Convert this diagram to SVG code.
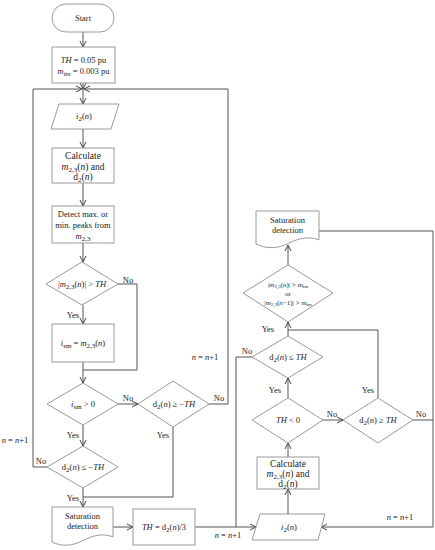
<svg xmlns="http://www.w3.org/2000/svg" width="435" height="550" viewBox="0 0 435 550">
<defs>
<marker id="ar" markerWidth="8" markerHeight="8" refX="7" refY="4" orient="auto" markerUnits="userSpaceOnUse">
<path d="M1,1 L7,4 L1,7" fill="none" stroke="#444" stroke-width="1"/>
</marker>
<style>
.s{fill:#fff;stroke:#9a9a9a;stroke-width:1}
.c{fill:none;stroke:#555;stroke-width:1}
.a{marker-end:url(#ar)}
text{font-family:"Liberation Serif","DejaVu Serif",serif;font-size:8.5px;fill:#222;text-anchor:middle}
.big{font-size:9.5px}
.sm{font-size:7px}
.i{font-style:italic}
.lb{font-size:8.5px}
</style>
</defs>
<rect width="435" height="550" fill="#fff"/>
<g id="connectors">
<path class="c a" d="M83,32 V47"/>
<path class="c a" d="M83,83 V89"/>
<path class="c a" d="M83,89 V104"/>
<path class="c a" d="M47,467 H33 V89 H82"/>
<path class="c a" d="M209,404 H228 V89 H84"/>
<path class="c a" d="M83,129 V148"/>
<path class="c a" d="M83,183 V206"/>
<path class="c a" d="M83,243 V262"/>
<path class="c" d="M118,284 H137 V370 H83"/>
<path class="c a" d="M83,305 V324"/>
<path class="c a" d="M83,362 V383"/>
<path class="c a" d="M118,404 H138"/>
<path class="c a" d="M83,425 V446"/>
<path class="c" d="M173,427 V497 H83"/>
<path class="c a" d="M83,488 V507"/>
<path class="c a" d="M113,527 H133"/>
<path class="c a" d="M195,527 H256"/>
<path class="c" d="M252,357 H236 V527"/>
<path class="c a" d="M288,514 V489"/>
<path class="c a" d="M288,457 V443"/>
<path class="c a" d="M323,420 H343"/>
<path class="c" d="M413,420 H433"/>
<path class="c a" d="M319,231 H433 V527 H321"/>
<path class="c a" d="M288,398 V378"/>
<path class="c" d="M378,398 V330 H288"/>
<path class="c a" d="M288,336 V322"/>
<path class="c a" d="M288,265 V245"/>
<text class="lb" x="128" y="283">No</text>
<text class="lb" x="73" y="318">Yes</text>
<text class="lb" x="128" y="401">No</text>
<text class="lb" x="73" y="438">Yes</text>
<text class="lb" x="163" y="438">Yes</text>
<text class="lb" x="219" y="401">No</text>
<text class="lb" x="41" y="464">No</text>
<text class="lb" x="73" y="501">Yes</text>
<text class="lb" x="15" y="443"><tspan class="i">n</tspan> = <tspan class="i">n</tspan>+1</text>
<text class="lb" x="205" y="360"><tspan class="i">n</tspan> = <tspan class="i">n</tspan>+1</text>
<text class="lb" x="228" y="538"><tspan class="i">n</tspan> = <tspan class="i">n</tspan>+1</text>
<text class="lb" x="247" y="354">No</text>
<text class="lb" x="332" y="417">No</text>
<text class="lb" x="421" y="417">No</text>
<text class="lb" x="400" y="520"><tspan class="i">n</tspan> = <tspan class="i">n</tspan>+1</text>
<text class="lb" x="275" y="393">Yes</text>
<text class="lb" x="368" y="393">Yes</text>
<text class="lb" x="268" y="332">Yes</text>
</g>
<g id="start">
<rect class="s" x="52" y="4" width="62" height="28" rx="14"/>
<text x="83" y="21">Start</text>
</g>
<g id="init">
<rect class="s" x="52" y="47" width="63" height="36"/>
<text x="83.5" y="63"><tspan class="i">TH</tspan> = 0.05 pu</text>
<text x="83.5" y="74"><tspan class="i">m</tspan><tspan class="sm i" dy="1.5">tm</tspan><tspan dy="-1.5"> = 0.003 pu</tspan></text>
</g>
<g id="input1">
<polygon class="s" points="59,104 119,104 111,129 51,129"/>
<text x="84" y="119"><tspan class="i">i</tspan><tspan class="sm" dy="1.5">2</tspan><tspan dy="-1.5">(</tspan><tspan class="i">n</tspan>)</text>
</g>
<g id="calc1">
<rect class="s" x="52" y="148" width="62" height="35"/>
<text class="big" x="83" y="159">Calculate</text>
<text class="big" x="83" y="170"><tspan class="i">m</tspan><tspan class="sm" dy="1.5">2,3</tspan><tspan dy="-1.5">(</tspan><tspan class="i">n</tspan>) and</text>
<text class="big" x="83" y="180">d<tspan class="sm" dy="1.5">2</tspan><tspan dy="-1.5">(</tspan><tspan class="i">n</tspan>)</text>
</g>
<g id="detect">
<rect class="s" x="52" y="206" width="62" height="37"/>
<text x="83" y="217">Detect max. or</text>
<text x="83" y="228">min. peaks from</text>
<text x="83" y="239"><tspan class="i">m</tspan><tspan class="sm" dy="1.5">2,3</tspan></text>
</g>
<g id="cond1">
<polygon class="s" points="82,262 118,284 82,305 46,284"/>
<text x="82" y="287">|<tspan class="i">m</tspan><tspan class="sm" dy="1.5">2,3</tspan><tspan dy="-1.5">(</tspan><tspan class="i">n</tspan>)| &gt; <tspan class="i">TH</tspan></text>
</g>
<g id="ism">
<rect class="s" x="52" y="324" width="62" height="38"/>
<text x="83" y="346"><tspan class="i">i</tspan><tspan class="sm" dy="1.5">sm</tspan><tspan dy="-1.5"> = </tspan><tspan class="i">m</tspan><tspan class="sm" dy="1.5">2,3</tspan><tspan dy="-1.5">(</tspan><tspan class="i">n</tspan>)</text>
</g>
<g id="cond2">
<polygon class="s" points="83,383 118,404 83,425 47,404"/>
<text x="83" y="407"><tspan class="i">i</tspan><tspan class="sm" dy="1.5">sm</tspan><tspan dy="-1.5"> &gt; 0</tspan></text>
</g>
<g id="cond3">
<polygon class="s" points="173,381 209,404 173,427 138,404"/>
<text x="174" y="407">d<tspan class="sm" dy="1.5">2</tspan><tspan dy="-1.5">(</tspan><tspan class="i">n</tspan>) ≥ −<tspan class="i">TH</tspan></text>
</g>
<g id="cond4">
<polygon class="s" points="83,446 118,467 83,488 47,467"/>
<text x="83" y="470">d<tspan class="sm" dy="1.5">2</tspan><tspan dy="-1.5">(</tspan><tspan class="i">n</tspan>) ≤ −<tspan class="i">TH</tspan></text>
</g>
<g id="sat1">
<path class="s" d="M52,507 H113 V537 C104,533 94,535 84,540 C73,546 62,547 52,542 Z"/>
<text x="82.5" y="519">Saturation</text>
<text x="82.5" y="529">detection</text>
</g>
<g id="thupd">
<rect class="s" x="133" y="509" width="62" height="36"/>
<text x="164" y="530"><tspan class="i">TH</tspan> = d<tspan class="sm" dy="1.5">2</tspan><tspan dy="-1.5">(</tspan><tspan class="i">n</tspan>)/3</text>
</g>
<g id="input2">
<polygon class="s" points="260,514 325,514 318,540 252,540"/>
<text x="289" y="530"><tspan class="i">i</tspan><tspan class="sm" dy="1.5">2</tspan><tspan dy="-1.5">(</tspan><tspan class="i">n</tspan>)</text>
</g>
<g id="calc2">
<rect class="s" x="257" y="457" width="62" height="32"/>
<text class="big" x="288" y="467">Calculate</text>
<text class="big" x="288" y="477"><tspan class="i">m</tspan><tspan class="sm" dy="1.5">2,3</tspan><tspan dy="-1.5">(</tspan><tspan class="i">n</tspan>) and</text>
<text class="big" x="288" y="487">d<tspan class="sm" dy="1.5">2</tspan><tspan dy="-1.5">(</tspan><tspan class="i">n</tspan>)</text>
</g>
<g id="cond5">
<polygon class="s" points="288,398 323,420 288,443 252,420"/>
<text x="288" y="423"><tspan class="i">TH</tspan> &lt; 0</text>
</g>
<g id="cond6">
<polygon class="s" points="378,398 413,420 378,443 343,420"/>
<text x="378" y="423">d<tspan class="sm" dy="1.5">2</tspan><tspan dy="-1.5">(</tspan><tspan class="i">n</tspan>) ≥ <tspan class="i">TH</tspan></text>
</g>
<g id="cond7">
<polygon class="s" points="288,336 323,357 288,378 252,357"/>
<text x="288" y="360">d<tspan class="sm" dy="1.5">2</tspan><tspan dy="-1.5">(</tspan><tspan class="i">n</tspan>) ≤ <tspan class="i">TH</tspan></text>
</g>
<g id="cond8">
<polygon class="s" points="288,265 333,293 288,322 243,293"/>
<text class="sm" x="288" y="287">|<tspan class="i">m</tspan><tspan font-size="5" dy="1">2,3</tspan><tspan dy="-1">(</tspan><tspan class="i">n</tspan>)| &gt; <tspan class="i">m</tspan><tspan font-size="5" dy="1">tm</tspan></text>
<text class="sm" x="288" y="296">or</text>
<text class="sm" x="288" y="305">|<tspan class="i">m</tspan><tspan font-size="5" dy="1">2,3</tspan><tspan dy="-1">(</tspan><tspan class="i">n</tspan>−1)| &gt; <tspan class="i">m</tspan><tspan font-size="5" dy="1">tm</tspan></text>
</g>
<g id="sat2">
<path class="s" d="M256,211 H319 V240 C310,236 299,238 289,243 C278,249 266,249 256,244 Z"/>
<text x="287.5" y="223">Saturation</text>
<text x="287.5" y="233">detection</text>
</g>
</svg>
